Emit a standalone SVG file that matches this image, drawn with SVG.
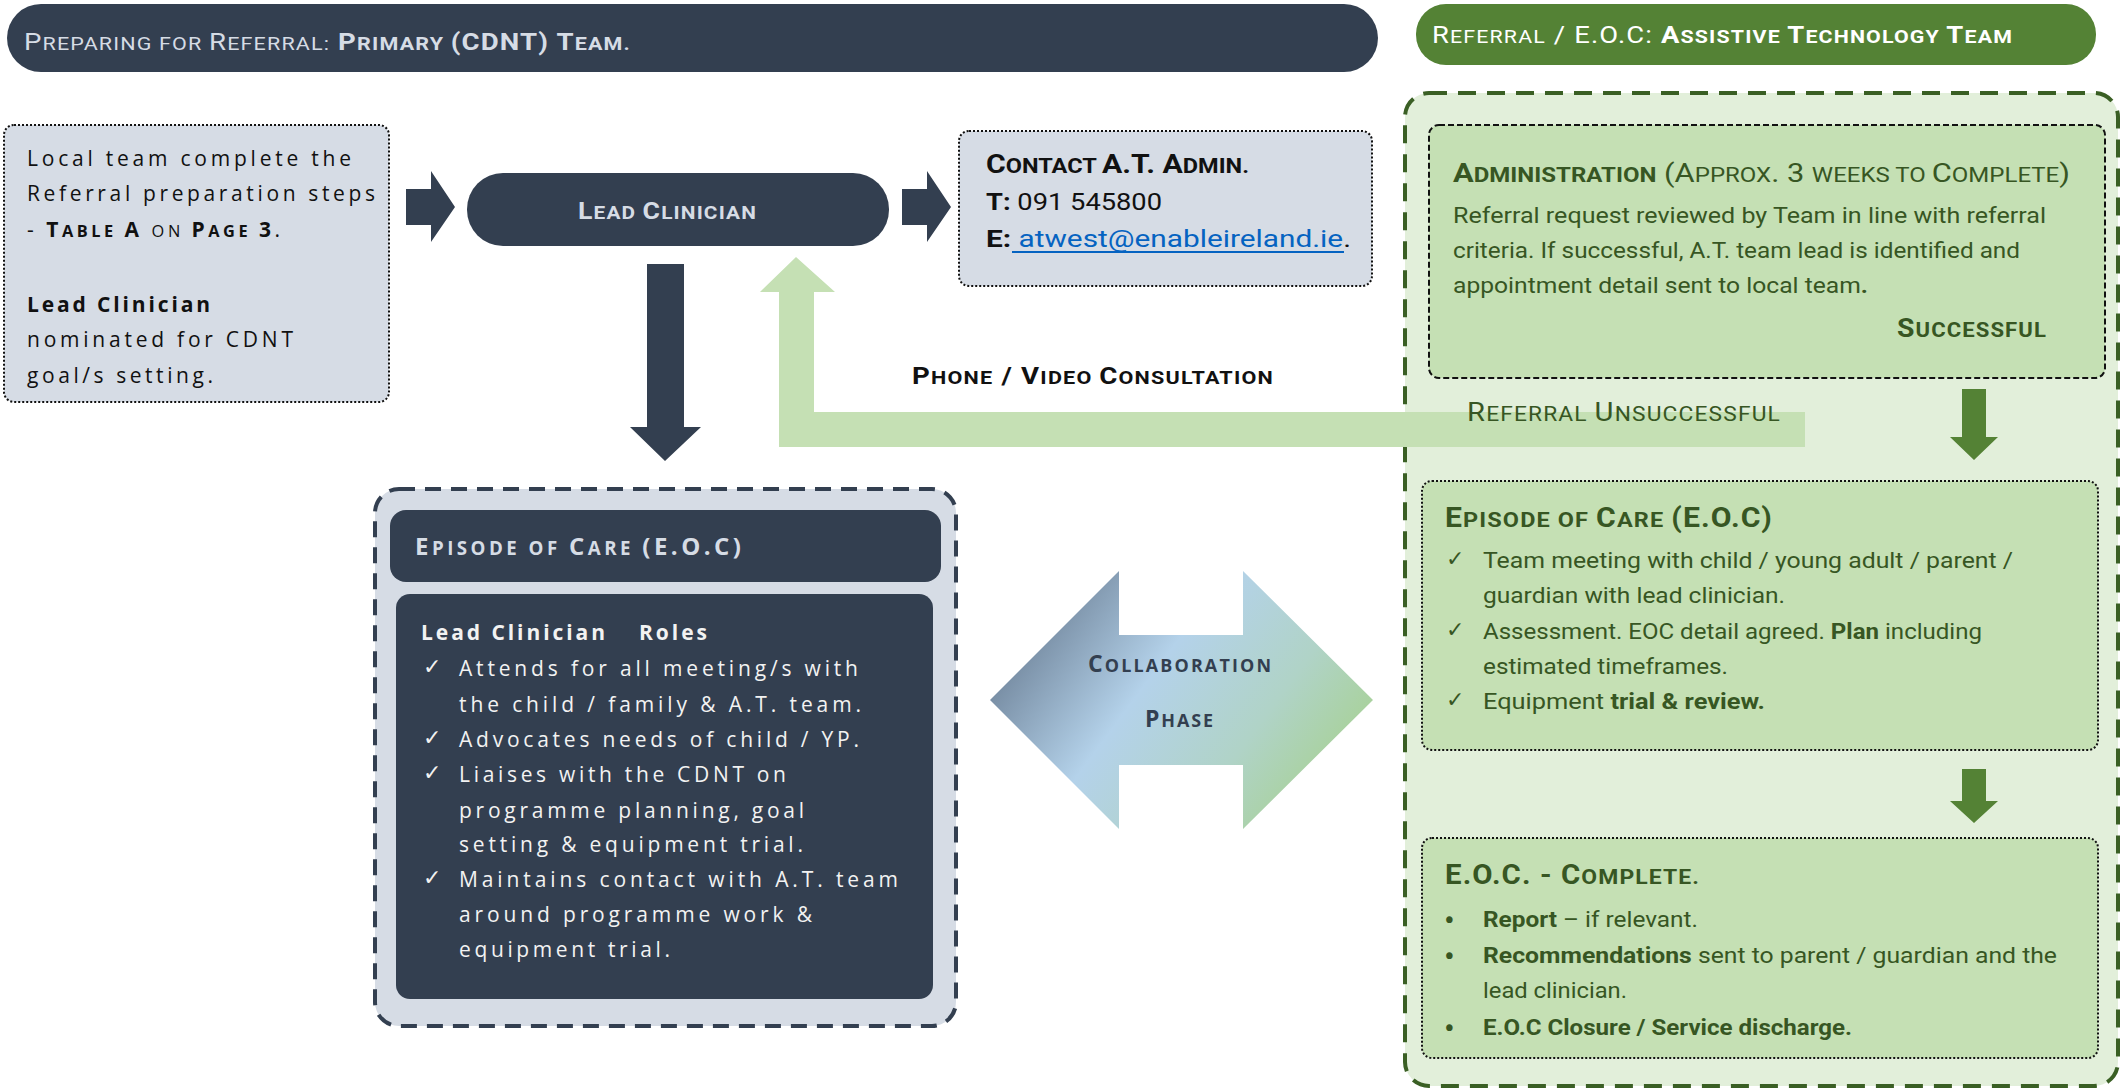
<svg xmlns="http://www.w3.org/2000/svg" width="2123" height="1092" viewBox="0 0 2123 1092">
<style>
.sp{font-family:"Open Sans",sans-serif;font-size:21px;letter-spacing:2px}
.cal{font-family:Roboto,"Liberation Sans",sans-serif;font-size:22px}
.s{font-size:0.78em}
.b{font-weight:bold}
.dark{fill:#333F50}
.lite{fill:#D6DCE5}
.grn{fill:#375623}
.dot{stroke:#111;stroke-width:2;stroke-dasharray:2 2;fill:none}
.chk{font-family:"DejaVu Sans",sans-serif;font-size:22px}
</style>
<defs>
<linearGradient id="collab" x1="0" y1="0.25" x2="1" y2="0.75">
<stop offset="0" stop-color="#66798F"/>
<stop offset="0.4" stop-color="#B4D2EA"/>
<stop offset="0.7" stop-color="#B0D3C7"/>
<stop offset="1" stop-color="#A6D18C"/>
</linearGradient>
</defs>

<g id="header-left">
<rect x="7" y="4" width="1371" height="68" rx="34" class="dark"/>
<text x="24" y="50" class="cal lite" style="font-size:24px;letter-spacing:1px" textLength="607" lengthAdjust="spacingAndGlyphs">P<tspan class="s">REPARING FOR </tspan>R<tspan class="s">EFERRAL:</tspan>  <tspan class="b">P<tspan class="s">RIMARY </tspan>(CDNT) T<tspan class="s">EAM.</tspan></tspan></text>
</g>

<g id="header-right">
<rect x="1416" y="4" width="680" height="61" rx="30" fill="#548235"/>
<text x="1432" y="43" class="cal" fill="#fff" style="font-size:24px;letter-spacing:1px" textLength="581" lengthAdjust="spacingAndGlyphs">R<tspan class="s">EFERRAL</tspan> / E.O.C:  <tspan class="b">A<tspan class="s">SSISTIVE </tspan>T<tspan class="s">ECHNOLOGY </tspan>T<tspan class="s">EAM</tspan></tspan></text>
</g>

<g id="at-container">
<rect x="1405" y="93" width="713" height="993" rx="24" fill="#E2EFDA" stroke="#3A5F24" stroke-width="4" stroke-dasharray="18 11"/>
</g>

<g id="connectors">
<path d="M406,189 L431,189 L431,171 L455,207 L431,242 L431,225 L406,225 Z" class="dark"/>
<path d="M902,189 L927,189 L927,171 L951,207 L927,242 L927,225 L902,225 Z" class="dark"/>
<path d="M647,264 L684,264 L684,427 L701,427 L665,461 L630,427 L647,427 Z" class="dark"/>
<path d="M796,257 L835,292 L814,292 L814,412 L1805,412 L1805,447 L779,447 L779,292 L760,292 Z" fill="#C5E0B4"/>
<path d="M1962,389 L1986,389 L1986,437 L1998,437 L1974,460 L1950,437 L1962,437 Z" fill="#548235"/>
<path d="M1962,769 L1986,769 L1986,801 L1998,801 L1974,823 L1950,801 L1962,801 Z" fill="#548235"/>
<text x="912" y="384" class="cal b" fill="#111" style="font-size:23px;letter-spacing:1px" textLength="362" lengthAdjust="spacingAndGlyphs">P<tspan class="s">HONE</tspan> / V<tspan class="s">IDEO </tspan>C<tspan class="s">ONSULTATION</tspan></text>
<text x="1467" y="421" class="cal grn" style="font-size:25px;letter-spacing:1px" textLength="314" lengthAdjust="spacingAndGlyphs">R<tspan class="s">EFERRAL </tspan>U<tspan class="s">NSUCCESSFUL</tspan></text>
</g>

<g id="local-team">
<rect x="4" y="125" width="385" height="277" rx="10" fill="#D6DCE5"/>
<rect x="4" y="125" width="385" height="277" rx="10" class="dot"/>
<text class="sp" fill="#111">
<tspan x="27" y="166" textLength="326" lengthAdjust="spacing">Local team complete the</tspan>
<tspan x="27" y="201" textLength="350" lengthAdjust="spacing">Referral preparation steps</tspan>
</text>
<text x="27" y="237" class="sp" fill="#111" textLength="255" lengthAdjust="spacing">- <tspan class="b">T<tspan class="s">ABLE </tspan>A</tspan> <tspan class="s">ON </tspan><tspan class="b">P<tspan class="s">AGE </tspan>3</tspan>.</text>
<text class="sp" fill="#111">
<tspan x="27" y="312" class="b" textLength="185" lengthAdjust="spacing">Lead Clinician</tspan>
<tspan x="27" y="347" textLength="268" lengthAdjust="spacing">nominated for CDNT</tspan>
<tspan x="27" y="383" textLength="188" lengthAdjust="spacing">goal/s setting.</tspan>
</text>
</g>

<g id="lead-clinician">
<rect x="467" y="173" width="422" height="73" rx="36" class="dark"/>
<text x="578" y="219" class="cal b lite" style="font-size:23px;letter-spacing:1px" textLength="179" lengthAdjust="spacingAndGlyphs">L<tspan class="s">EAD </tspan>C<tspan class="s">LINICIAN</tspan></text>
</g>

<g id="contact">
<rect x="959" y="131" width="413" height="155" rx="10" fill="#D6DCE5"/>
<rect x="959" y="131" width="413" height="155" rx="10" class="dot"/>
<text x="986" y="173" class="cal b" fill="#111" style="font-size:25px" textLength="263" lengthAdjust="spacingAndGlyphs">C<tspan class="s">ONTACT </tspan>A.T. A<tspan class="s">DMIN.</tspan></text>
<text x="986" y="210" class="cal" fill="#111" style="font-size:24px" textLength="176" lengthAdjust="spacingAndGlyphs"><tspan class="b">T:</tspan> 091 545800</text>
<text x="986" y="247" class="cal" fill="#111" style="font-size:24px" textLength="365" lengthAdjust="spacingAndGlyphs"><tspan class="b">E:</tspan> <tspan fill="#0563C1">atwest@enableireland.ie</tspan>.</text>
<line x1="1012" y1="252" x2="1344" y2="252" stroke="#0563C1" stroke-width="2"/>
</g>

<g id="eoc-left">
<rect x="375" y="489" width="581" height="537" rx="24" fill="#D6DCE5" stroke="#333F50" stroke-width="4" stroke-dasharray="16 10"/>
<rect x="390" y="510" width="551" height="72" rx="16" class="dark"/>
<text x="415" y="555" class="sp b lite" style="font-size:24px;letter-spacing:2px" textLength="328" lengthAdjust="spacing">E<tspan class="s">PISODE OF </tspan>C<tspan class="s">ARE </tspan>(E.O.C)</text>
<rect x="396" y="594" width="537" height="405" rx="14" class="dark"/>
<text class="sp" fill="#F2F2F2">
<tspan x="421" y="640" class="b" textLength="186" lengthAdjust="spacing">Lead Clinician</tspan>
<tspan x="639" y="640" class="b" textLength="70" lengthAdjust="spacing">Roles</tspan>
<tspan x="459" y="676" textLength="401" lengthAdjust="spacing">Attends for all meeting/s with</tspan>
<tspan x="459" y="712" textLength="404" lengthAdjust="spacing">the child / family &amp; A.T. team.</tspan>
<tspan x="459" y="747" textLength="402" lengthAdjust="spacing">Advocates needs of child / YP.</tspan>
<tspan x="459" y="782" textLength="329" lengthAdjust="spacing">Liaises with the CDNT on</tspan>
<tspan x="459" y="818" textLength="347" lengthAdjust="spacing">programme planning, goal</tspan>
<tspan x="459" y="852" textLength="346" lengthAdjust="spacing">setting &amp; equipment trial.</tspan>
<tspan x="459" y="887" textLength="441" lengthAdjust="spacing">Maintains contact with A.T. team</tspan>
<tspan x="459" y="922" textLength="355" lengthAdjust="spacing">around programme work &amp;</tspan>
<tspan x="459" y="957" textLength="213" lengthAdjust="spacing">equipment trial.</tspan>
</text>
<text class="chk" fill="#F2F2F2">
<tspan x="423" y="674">✓</tspan>
<tspan x="423" y="745">✓</tspan>
<tspan x="423" y="780">✓</tspan>
<tspan x="423" y="885">✓</tspan>
</text>
</g>

<g id="collaboration">
<path d="M990,700 L1119,571 L1119,635 L1243,635 L1243,571 L1373,700 L1243,829 L1243,765 L1119,765 L1119,829 Z" fill="url(#collab)"/>
<text x="1088" y="672" class="sp b dark" style="font-size:23px;letter-spacing:2px" textLength="185" lengthAdjust="spacing">C<tspan class="s">OLLABORATION</tspan></text>
<text x="1145" y="727" class="sp b dark" style="font-size:23px;letter-spacing:2px" textLength="70" lengthAdjust="spacing">P<tspan class="s">HASE</tspan></text>
</g>

<g id="administration">
<rect x="1429" y="125" width="676" height="253" rx="10" fill="#C5E0B4"/>
<rect x="1429" y="125" width="676" height="253" rx="10" fill="none" stroke="#111" stroke-width="2" stroke-dasharray="6 3"/>
<text x="1453" y="182" class="cal grn" style="font-size:26px" textLength="617" lengthAdjust="spacingAndGlyphs"><tspan class="b">A<tspan class="s">DMINISTRATION</tspan></tspan> (A<tspan class="s">PPROX</tspan>. 3 <tspan class="s">WEEKS TO </tspan>C<tspan class="s">OMPLETE</tspan>)</text>
<text class="cal grn">
<tspan x="1453" y="223" textLength="593" lengthAdjust="spacingAndGlyphs">Referral request reviewed by Team in line with referral</tspan>
<tspan x="1453" y="258" textLength="567" lengthAdjust="spacingAndGlyphs">criteria. If successful, A.T. team lead is identified and</tspan>
<tspan x="1453" y="293" textLength="415" lengthAdjust="spacingAndGlyphs">appointment detail sent to local team<tspan class="b">.</tspan></tspan>
</text>
<text x="1897" y="337" class="cal b grn" style="font-size:26px;letter-spacing:1px" textLength="150" lengthAdjust="spacingAndGlyphs">S<tspan class="s">UCCESSFUL</tspan></text>
</g>

<g id="eoc-right">
<rect x="1422" y="481" width="676" height="269" rx="10" fill="#C5E0B4"/>
<rect x="1422" y="481" width="676" height="269" rx="10" class="dot"/>
<text x="1445" y="527" class="cal b grn" style="font-size:27px;letter-spacing:1px" textLength="328" lengthAdjust="spacingAndGlyphs">E<tspan class="s">PISODE OF </tspan>C<tspan class="s">ARE </tspan>(E.O.C)</text>
<text class="cal grn">
<tspan x="1483" y="568" textLength="530" lengthAdjust="spacingAndGlyphs">Team meeting with child / young adult / parent /</tspan>
<tspan x="1483" y="603" textLength="302" lengthAdjust="spacingAndGlyphs">guardian with lead clinician.</tspan>
<tspan x="1483" y="639" textLength="499" lengthAdjust="spacingAndGlyphs">Assessment. EOC detail agreed. <tspan class="b">Plan</tspan> including</tspan>
<tspan x="1483" y="674" textLength="245" lengthAdjust="spacingAndGlyphs">estimated timeframes.</tspan>
<tspan x="1483" y="709" textLength="282" lengthAdjust="spacingAndGlyphs">Equipment <tspan class="b">trial &amp; review.</tspan></tspan>
</text>
<text class="chk grn">
<tspan x="1446" y="566">✓</tspan>
<tspan x="1446" y="637">✓</tspan>
<tspan x="1446" y="707">✓</tspan>
</text>
</g>

<g id="eoc-complete">
<rect x="1422" y="838" width="676" height="220" rx="10" fill="#C5E0B4"/>
<rect x="1422" y="838" width="676" height="220" rx="10" class="dot"/>
<text x="1445" y="884" class="cal b grn" style="font-size:27px;letter-spacing:1px" textLength="255" lengthAdjust="spacingAndGlyphs">E.O.C. - C<tspan class="s">OMPLETE.</tspan></text>
<text class="cal grn">
<tspan x="1483" y="927" textLength="215" lengthAdjust="spacingAndGlyphs"><tspan class="b">Report</tspan> – if relevant.</tspan>
<tspan x="1483" y="963" textLength="574" lengthAdjust="spacingAndGlyphs"><tspan class="b">Recommendations</tspan> sent to parent / guardian and the</tspan>
<tspan x="1483" y="998" textLength="144" lengthAdjust="spacingAndGlyphs">lead clinician.</tspan>
<tspan x="1483" y="1035" class="b" textLength="369" lengthAdjust="spacingAndGlyphs">E.O.C Closure / Service discharge.</tspan>
</text>
<text class="cal grn" style="font-size:32px">
<tspan x="1444" y="931">•</tspan>
<tspan x="1444" y="967">•</tspan>
<tspan x="1444" y="1039">•</tspan>
</text>
</g>
</svg>
